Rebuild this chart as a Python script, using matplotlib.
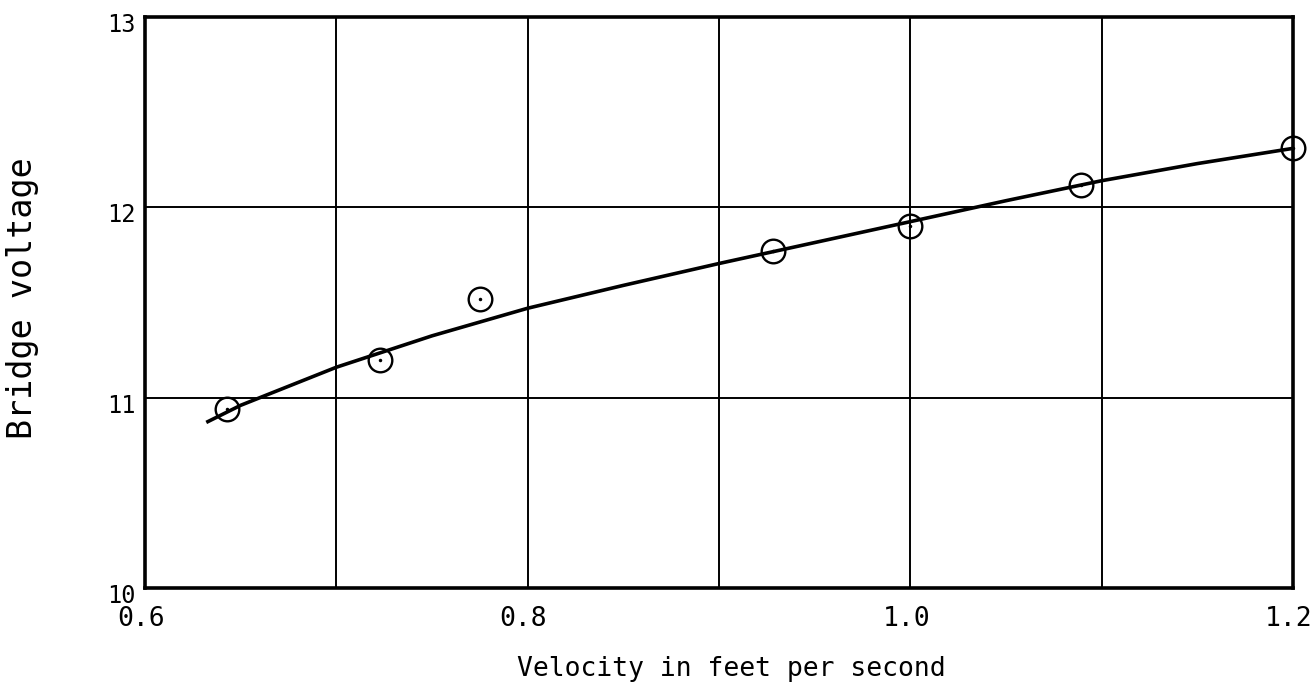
import matplotlib
matplotlib.use('Agg')
import matplotlib.pyplot as plt
import matplotlib.transforms as mtransforms
import numpy as np

# measured points (velocity ft/s, bridge voltage)
velocity = [0.643, 0.723, 0.775, 0.928, 1.000, 1.089, 1.200]
voltage  = [10.94, 11.20, 11.52, 11.77, 11.90, 12.115, 12.31]

# faired curve as drawn on the sheet
curve_v = [0.632, 0.65, 0.70, 0.75, 0.80, 0.85, 0.90, 0.95, 1.00, 1.05, 1.10, 1.15, 1.20]
curve_e = [10.87, 10.96, 11.16, 11.325, 11.47, 11.59, 11.705, 11.815, 11.925, 12.035, 12.14, 12.23, 12.31]

xticks = [0.6, 0.8, 1.0, 1.2]
xtick_labels = ['0.6', '0.8', '1.0', '1.2']
yticks = [10, 11, 12, 13]
ytick_labels = ['10', '11', '12', '13']

plt.rcParams['font.family'] = ['DejaVu Sans Mono']

fig = plt.figure(figsize=(13.15, 6.98), dpi=100)
ax = fig.add_axes([0.1103, 0.1576, 0.8730, 0.8180])

ax.set_xlim(0.6, 1.2)
ax.set_ylim(10, 13)

# grid every 0.1 ft/s and every volt
for gx in np.arange(0.7, 1.15, 0.1):
    ax.axvline(gx, color='black', lw=1.4, zorder=1)
for gy in [11, 12]:
    ax.axhline(gy, color='black', lw=1.4, zorder=1)

ax.plot(curve_v, curve_e, color='black', lw=2.6, solid_capstyle='butt', zorder=3)
ax.plot(velocity, voltage, 'o', ms=17, mfc='none', mec='black', mew=1.7, zorder=4, clip_on=False)
ax.plot(velocity, voltage, '.', ms=3, color='black', zorder=5, clip_on=False)

for s in ax.spines.values():
    s.set_linewidth(2.6)

ax.set_xticks(xticks)
ax.set_xticklabels(xtick_labels, fontsize=19)
ax.set_yticks(yticks)
ax.set_yticklabels(ytick_labels, fontsize=17, va='top')
ax.tick_params(axis='x', length=0, pad=13)
ax.tick_params(axis='y', length=0, pad=7)
lift = mtransforms.ScaledTranslation(0, 3 / 72, fig.dpi_scale_trans)
for lab in ax.get_yticklabels():
    lab.set_transform(lab.get_transform() + lift)
nudge = mtransforms.ScaledTranslation(-3 / 72, 0, fig.dpi_scale_trans)
for lab in ax.get_xticklabels():
    lab.set_transform(lab.get_transform() + nudge)

fig.text(0.556, 0.023, 'Velocity in feet per second', ha='center', va='bottom', fontsize=19)
fig.text(0.017, 0.573, 'Bridge voltage', ha='center', va='center', rotation=90, fontsize=24)

fig.savefig('out.png', dpi=100)
